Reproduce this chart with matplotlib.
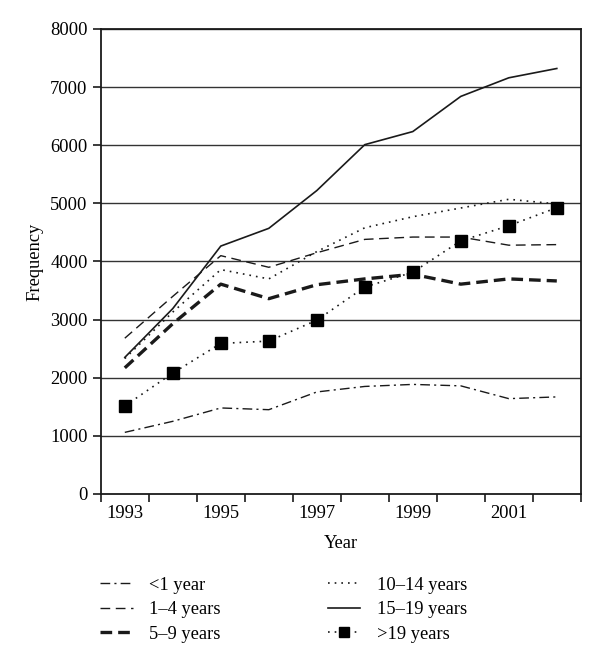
import numpy as np
import matplotlib.pyplot as plt

years = [1993, 1994, 1995, 1996, 1997, 1998, 1999, 2000, 2001, 2002]

under1 = [1060, 1250, 1480, 1450, 1755, 1850, 1885, 1860, 1640, 1670]
y1_4 = [2680, 3400, 4100, 3900, 4150, 4380, 4420, 4420, 4280, 4290]
y5_9 = [2170, 2930, 3610, 3360, 3600, 3700, 3780, 3610, 3700, 3665]
y10_14 = [2330, 3130, 3860, 3700, 4170, 4580, 4770, 4920, 5070, 4990]
y15_19 = [2350, 3190, 4265, 4570, 5220, 6010, 6235, 6840, 7160, 7320]
over19 = [1515, 2080, 2590, 2630, 2990, 3560, 3815, 4355, 4615, 4925]

labels = ['<1 year', '1\u20134 years', '5\u20139 years',
          '10\u201314 years', '15\u201319 years', '>19 years']

plt.rcParams['font.family'] = ['Liberation Serif', 'DejaVu Serif']
fs = 13.3

fig = plt.figure(figsize=(6, 6.66), dpi=100)
ax = fig.add_axes([0.168, 0.2583, 0.8, 0.6982])

ink = '#1a1a1a'
ax.plot(years, under1, color=ink, lw=1.0, ls=(0, (7, 3, 1.5, 3)), label=labels[0])
ax.plot(years, y1_4, color=ink, lw=1.0, ls=(0, (7, 4)), label=labels[1])
ax.plot(years, y5_9, color=ink, lw=2.4, ls=(0, (3.5, 1.8)), label=labels[2])
ax.plot(years, y10_14, color=ink, lw=1.2, ls=(0, (1, 3)), label=labels[3])
ax.plot(years, y15_19, color=ink, lw=1.2, ls='-', label=labels[4])
ax.plot(years, over19, color=ink, lw=1.2, ls=(0, (1, 3)), marker='s', ms=8,
        mfc='black', mec='black', label=labels[5])

for v in range(1000, 8001, 1000):
    ax.axhline(v, color='#333333', lw=1.0, zorder=0)

ax.set_xlim(1992.5, 2002.5)
ax.set_ylim(0, 8000)
ax.set_yticks(range(0, 8001, 1000))
ax.set_xticks(np.arange(1992.5, 2003, 1.0))
ax.set_xticklabels([])
ax.set_xticks([1993, 1995, 1997, 1999, 2001], minor=True)
ax.set_xticklabels(['1993', '1995', '1997', '1999', '2001'], minor=True)
ax.tick_params(axis='x', which='major', direction='out', length=6, width=1.2, color=ink)
ax.tick_params(axis='x', which='minor', length=0, pad=8, labelsize=fs)
ax.tick_params(axis='y', direction='out', length=6, width=1.2, color=ink, labelsize=fs)

for s in ax.spines.values():
    s.set_linewidth(1.3)
    s.set_color(ink)

ax.set_ylabel('Frequency', fontsize=fs, labelpad=5)
ax.set_xlabel('Year', fontsize=fs, labelpad=9)

fig.legend(loc='upper left', bbox_to_anchor=(0.167, 0.134), ncol=2, frameon=False,
           fontsize=fs, handlelength=1.75, handletextpad=0.9, columnspacing=5.8,
           labelspacing=0.4, borderpad=0, borderaxespad=0, markerscale=0.9)

fig.savefig('out.png', dpi=100)
